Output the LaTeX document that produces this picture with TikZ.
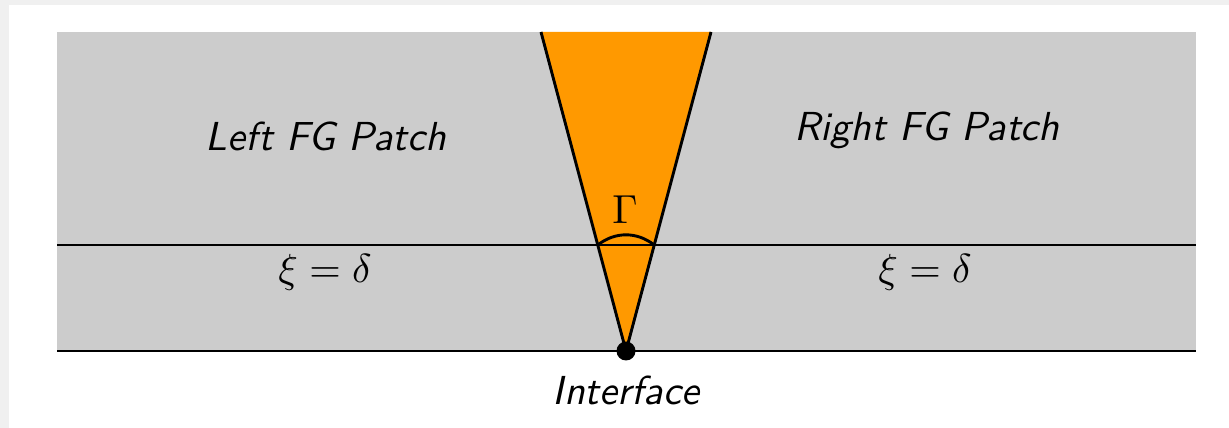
\documentclass[tikz,border=0pt]{standalone}
\usetikzlibrary{calc}
\definecolor{frame}{HTML}{F0F0F0}
\definecolor{patch}{HTML}{CCCCCC}
\definecolor{wedge}{HTML}{FF9900}
\begin{document}
\begin{tikzpicture}[x=1pt,y=1pt,
  line/.style={black,line width=2.9pt},
  lbl/.style={font=\normalsize\sffamily\itshape,inner sep=0pt,scale=4.05},
  mlbl/.style={font=\normalsize,inner sep=0pt,scale=4.05}]
\fill[frame] (0,0) rectangle (1229,428);
\fill[white] (9,0) rectangle (1229,423);
\useasboundingbox (0,0) rectangle (1229,428);
\fill[patch] (57,77) rectangle (1196,396);
\coordinate (apex) at (626,77);
\coordinate (tl) at (541,396);
\coordinate (tr) at (711,396);
\coordinate (l1) at (57,183);
\coordinate (r1) at (1196,183);
\coordinate (l0) at (57,77);
\coordinate (r0) at (1196,77);
\fill[wedge] (apex) -- (tl) -- (tr) -- cycle;
\draw[line] (l1) -- (r1);
\draw[line] (l0) -- (r0);
\draw[line] (tl) -- (apex) -- (tr);
\coordinate (al) at ($(apex)!0.3323!(tl)$);
\coordinate (ar) at ($(apex)!0.3323!(tr)$);
\draw[line] (al) to[bend left=38] (ar);
\fill[black] (apex) circle (9.5);
\node[lbl] (left) at (326,292) {Left FG Patch};
\node[lbl] (right) at (927,298) {Right FG Patch};
\node[mlbl] (xil) at (325,156) {$\xi=\delta$};
\node[mlbl] (xir) at (925,156) {$\xi=\delta$};
\node[mlbl] (gam) at (625,218) {$\Gamma$};
\node[lbl] (iface) at (626,38) {Interface};
\end{tikzpicture}
\end{document}
